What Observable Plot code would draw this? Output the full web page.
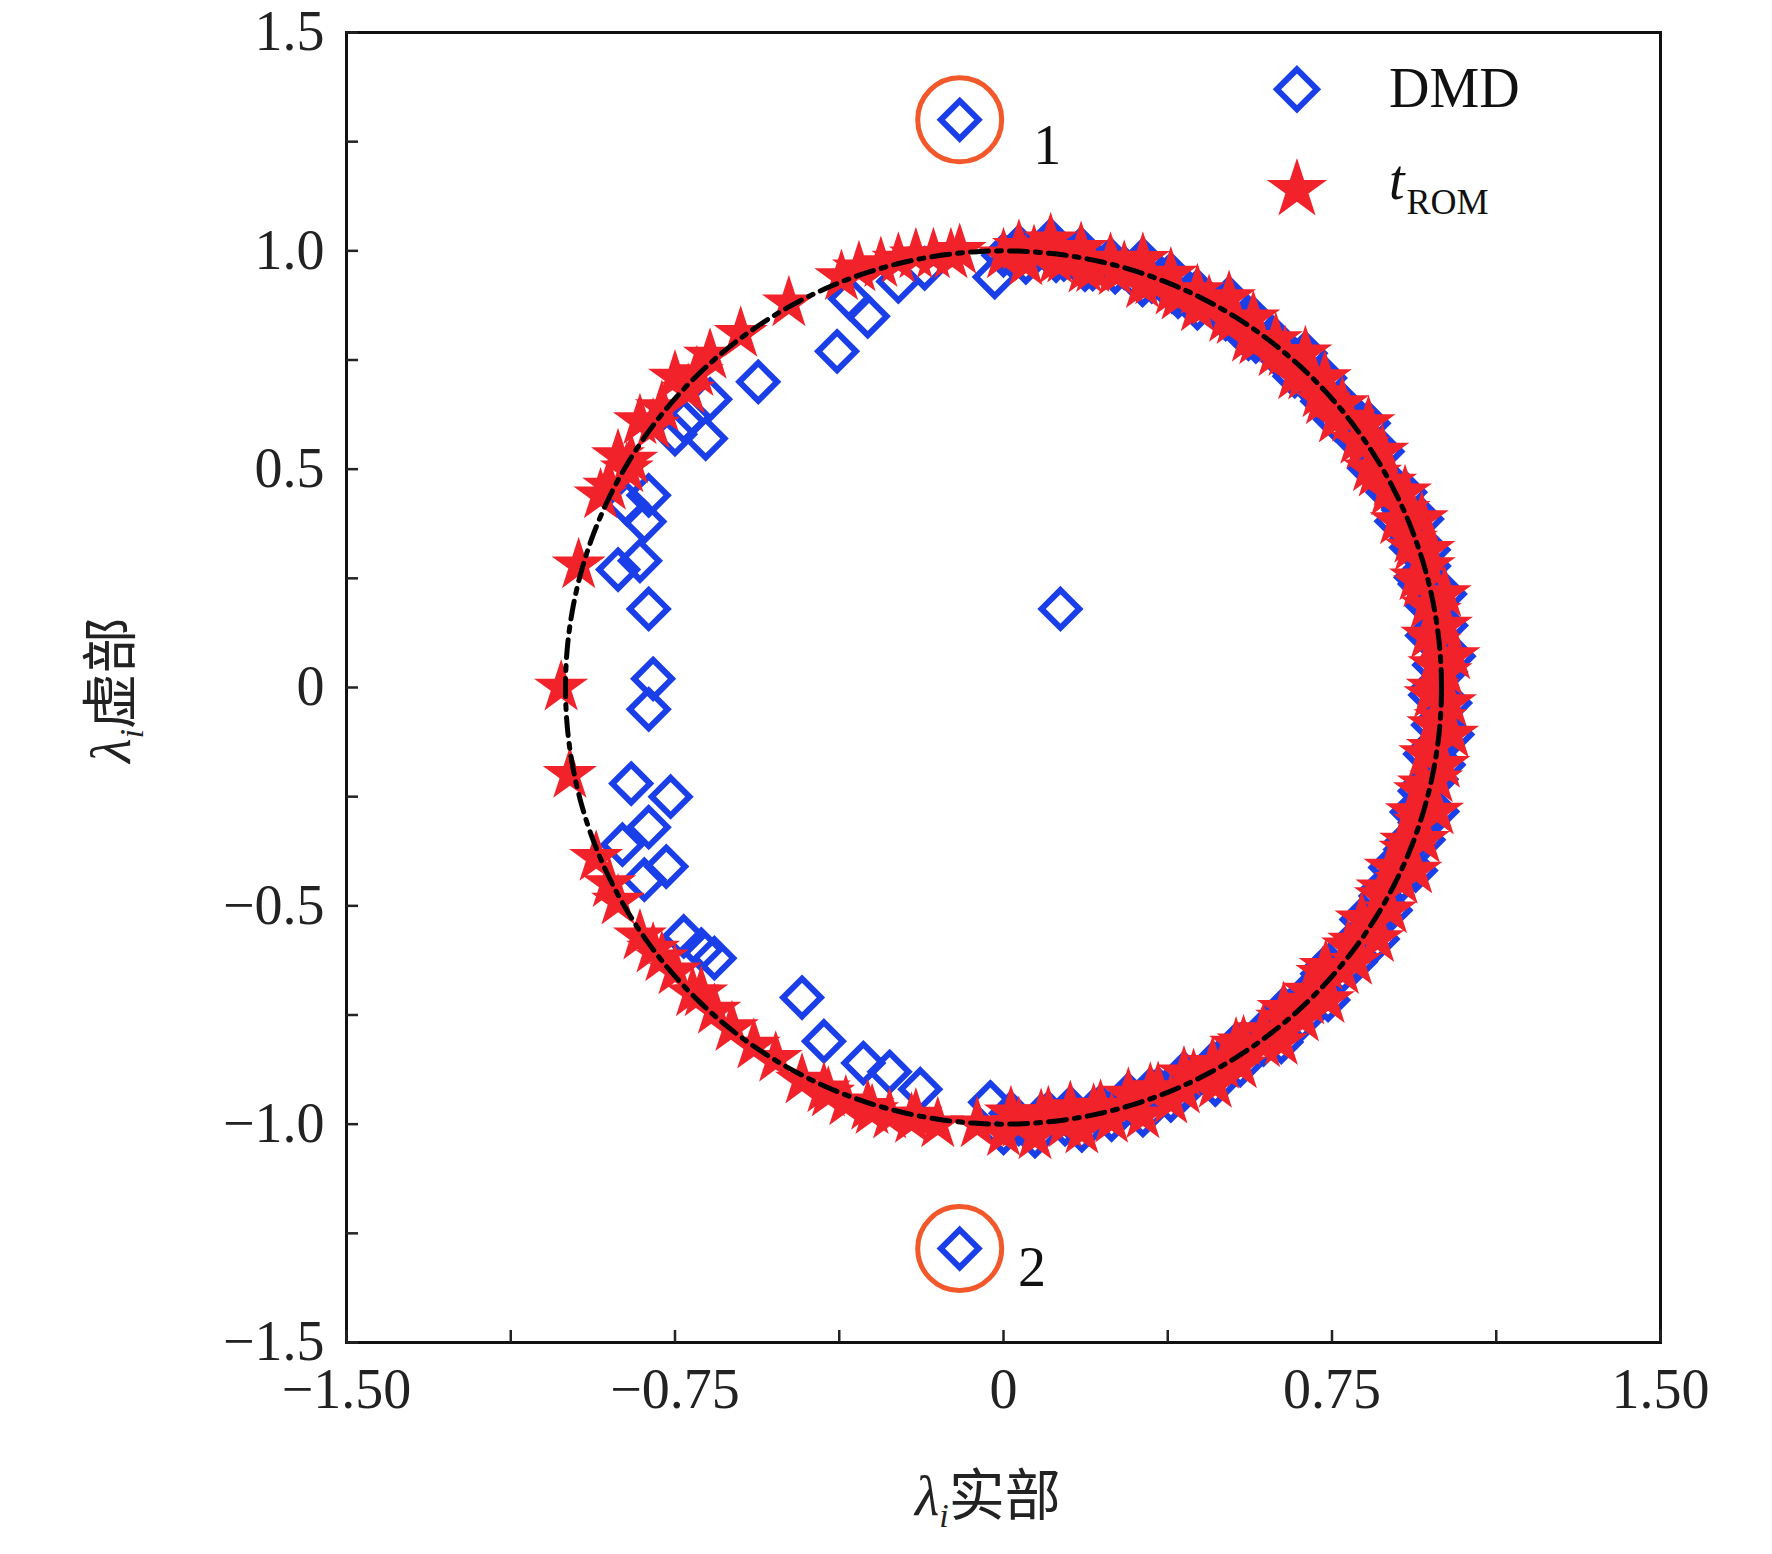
<!DOCTYPE html>
<html><head><meta charset="utf-8">
<script src="https://cdn.jsdelivr.net/npm/d3@7"></script>
<script src="https://cdn.jsdelivr.net/npm/@observablehq/plot@0.6"></script>
<style>
body{margin:0;background:#fff;}
#wrap{position:relative;width:1772px;height:1554px;font-family:"Liberation Serif",serif;}
.lab{position:absolute;font-size:56px;color:#222;white-space:nowrap;}
</style></head><body><div id="wrap"></div>
<script>
// dense arc (right side), polar: angle in degrees, radius
const arcAngles = [-90,-88,-86,-84,-82,-80,-78,-76,-74,-72,-70,-68,-66,-64,-62,-60,-58,-56,-54,-52,-50,-48,-46,-44,-42,-40,-38,-36,-34,-32,-30,-28,-26,-24,-22,-20,-18,-16,-14,-12,-10,-8,-6,-4,-2,0,2,4,6,8,10,12,14,16,18,20,22,24,26,28,30,32,34,36,38,40,42,44,46,48,50,52,54,56,58,60,62,64,66,68,70,72,74,76,78,80,82,84,86,88,90];
const arcRadii  = [1.02,1.0,1.03,0.98,1.01,1.03,0.99,1.02,1.0,1.03,0.98,1.02,1.01,0.99,1.03,1.0,1.02,0.98,1.01,1.03,0.99,1.02,1.0,1.03,0.98,1.01,1.02,0.99,1.03,1.0,1.02,0.98,1.01,1.03,0.99,1.02,1.0,1.03,0.98,1.01,1.02,0.99,1.03,1.0,1.02,0.98,1.01,1.03,0.99,1.02,1.0,1.03,0.98,1.01,1.02,0.99,1.03,1.0,1.02,1.0,0.98,1.02,0.99,1.03,1.0,1.01,0.98,1.02,0.99,1.03,1.0,1.01,0.98,1.02,0.99,1.03,1.0,1.01,0.98,1.02,0.99,1.03,1.0,1.01,0.98,1.02,0.99,1.03,1.0,1.01,0.99];
const arcAngles2 = [-89,-85,-81,-77,-73,-69,-65,-61,-57,-53,-49,-45,-41,-37,-33,-29,-25,-21,-17,-13,-9,-5,-1,3,7,11,15,19,23,27,31,35,39,43,47,51,55,59,63,67,71,75,79,83,87];
const arcRadii2  = [0.975,0.985,0.975,0.985,0.975,0.985,0.975,0.985,0.975,0.985,0.975,0.985,0.975,0.985,0.975,0.985,0.975,0.985,0.975,0.985,0.975,0.985,0.975,0.985,0.975,0.985,0.975,0.985,0.975,0.985,0.975,0.985,0.975,0.985,0.975,0.985,0.975,0.985,0.975,0.985,0.975,0.985,0.975,0.985,0.975];
// scattered DMD eigenvalues
const dmdX = [-0.10,-0.10,0.13,-0.02,-0.38,-0.31,-0.56,-0.68,-0.67,-0.73,-0.81,-0.82,-0.83,-0.88,-0.81,-0.80,-0.81,-0.85,-0.76,-0.81,-0.87,-0.77,-0.82,-0.73,-0.66,-0.69,-0.46,-0.41,-0.32,-0.26,-0.19,-0.03,-0.24,-0.18,-0.35,-0.86,-0.75];
const dmdY = [1.30,-1.285,0.18,0.94,0.77,0.85,0.70,0.57,0.66,0.61,0.44,0.38,0.29,0.27,0.18,0.02,-0.05,-0.22,-0.25,-0.32,-0.36,-0.41,-0.44,-0.57,-0.62,-0.60,-0.71,-0.81,-0.86,-0.88,-0.92,-0.95,0.93,0.96,0.89,0.42,0.58];
// scattered tROM eigenvalues
const romX = [-1.01,-0.99,-0.97,-0.92,-0.93,-0.88,-0.83,-0.75,-0.67,-0.60,-0.49,-0.37,-0.28,-0.20,-0.10,-0.88,-0.83,-0.75,-0.66,-0.57,-0.46,-0.36,-0.26,-0.15,-0.06,-0.85,-0.80,-0.72,-0.90,-0.78,-0.69,-0.52,-0.41,-0.31,-0.21,-0.12,-0.90,-0.86,-0.78,-0.70,-0.33,-0.24,-0.16,-0.80,-0.71,-0.62,-0.40,-0.30,-0.20];
const romY = [0.0,-0.20,0.28,0.44,-0.39,0.53,0.61,0.71,0.76,0.81,0.88,0.94,0.97,0.99,1.0,-0.49,-0.57,-0.65,-0.74,-0.82,-0.90,-0.95,-0.98,-1.0,-1.0,0.52,0.60,0.68,-0.45,-0.62,-0.70,-0.85,-0.92,-0.96,-0.99,0.99,0.46,0.50,0.64,0.72,0.96,0.98,0.99,-0.60,-0.70,-0.78,-0.93,-0.97,-0.98];
const highlighted = [{x:-0.10,y:1.30,label:"1",lx:0.10,ly:1.24},{x:-0.10,y:-1.285,label:"2",lx:0.065,ly:-1.33}];
const yMinor = [-1.5,-1.25,-1,-0.75,-0.5,-0.25,0,0.25,0.5,0.75,1,1.25,1.5];
const yMajor = [-1.5,-1,-0.5,0,0.5,1,1.5];
const yLabels = ["−1.5","−1.0","−0.5","0","0.5","1.0","1.5"];
const xMinor = [-1.5,-1.125,-0.75,-0.375,0,0.375,0.75,1.125,1.5];
const xMajor = [-1.5,-0.75,0,0.75,1.5];
const xLabels = ["−1.50","−0.75","0","0.75","1.50"];

const toXY = (angs,rads)=>angs.map((a,i)=>({x:rads[i]*Math.cos(a*Math.PI/180), y:rads[i]*Math.sin(a*Math.PI/180)}));
const arc = toXY(arcAngles,arcRadii).concat(toXY(arcAngles2,arcRadii2));
const dmd = dmdX.map((x,i)=>({x,y:dmdY[i]}));
const rom = romX.map((x,i)=>({x,y:romY[i]}));
const circle = d3.range(0,361,1).map(d=>({x:Math.cos(d*Math.PI/180),y:Math.sin(d*Math.PI/180)}));
const blue="#1a3ee8", red="#f2222a";

const chart = Plot.plot({
  width:1772,height:1554,marginLeft:346,marginRight:112,marginTop:32,marginBottom:212,
  x:{type:"linear",domain:[-1.5,1.5]}, y:{type:"linear",domain:[-1.5,1.5]},
  style:{fontFamily:"Liberation Serif",fontSize:"56px",color:"#222",background:"white"},
  marks:[
    Plot.frame({stroke:"#111",strokeWidth:3}),
    Plot.axisX({ticks:xMinor,tickSize:-12,tickFormat:()=>"",strokeWidth:2.5,label:null}),
    Plot.axisY({ticks:yMinor,tickSize:-12,tickFormat:()=>"",strokeWidth:2.5,label:null}),
    Plot.axisX({ticks:xMajor,tickSize:0,tickPadding:26,tickFormat:(d)=>xLabels[xMajor.indexOf(d)],label:null,fontSize:56}),
    Plot.axisY({ticks:yMajor,tickSize:0,tickPadding:22,tickFormat:(d)=>yLabels[yMajor.indexOf(d)],label:null,fontSize:56}),
    Plot.dot(arc,{x:"x",y:"y",symbol:"diamond2",r:17,stroke:blue,strokeWidth:6}),
    Plot.dot(dmd,{x:"x",y:"y",symbol:"diamond2",r:17,stroke:blue,strokeWidth:6}),
    Plot.dot(arc,{x:"x",y:"y",symbol:"star",r:17,fill:red}),
    Plot.dot(rom,{x:"x",y:"y",symbol:"star",r:17,fill:red}),
    Plot.line(circle,{x:"x",y:"y",stroke:"black",strokeWidth:5,strokeDasharray:"18,8,5,8"}),
    Plot.dot(highlighted,{x:"x",y:"y",r:42,stroke:"#f2582a",strokeWidth:5}),
    Plot.text(highlighted,{x:"lx",y:"ly",text:"label",fontSize:56,fill:"#111"}),
    Plot.dot([{x:0.67,y:1.37}],{x:"x",y:"y",symbol:"diamond2",r:18,stroke:blue,strokeWidth:6}),
    Plot.dot([{x:0.67,y:1.14}],{x:"x",y:"y",symbol:"star",r:19,fill:red}),
    Plot.text([{x:0.88,y:1.37}],{x:"x",y:"y",text:()=>"DMD",textAnchor:"start",fontSize:56,fill:"#111"}),
    Plot.text([{x:0.88,y:1.16}],{x:"x",y:"y",text:()=>"t",textAnchor:"start",fontSize:56,fontStyle:"italic",fill:"#111"}),
    Plot.text([{x:0.92,y:1.11}],{x:"x",y:"y",text:()=>"ROM",textAnchor:"start",fontSize:36,fill:"#111"})
  ]
});
const wrap=document.getElementById("wrap");
wrap.appendChild(chart);
const xl=document.createElement("div");xl.className="lab";
xl.style.left="915px";xl.style.top="1450px";
xl.innerHTML='<i>λ</i><sub style="font-size:34px"><i>i</i></sub><span style="font-family:\'Noto Sans CJK SC\'">实部</span>';
wrap.appendChild(xl);
const yl=document.createElement("div");yl.className="lab";
yl.style.left="108px";yl.style.top="690px";yl.style.transform="translate(-50%,-50%) rotate(-90deg)";
yl.innerHTML='<i>λ</i><sub style="font-size:34px"><i>i</i></sub><span style="font-family:\'Noto Sans CJK SC\'">虚部</span>';
wrap.appendChild(yl);
</script></body></html>
